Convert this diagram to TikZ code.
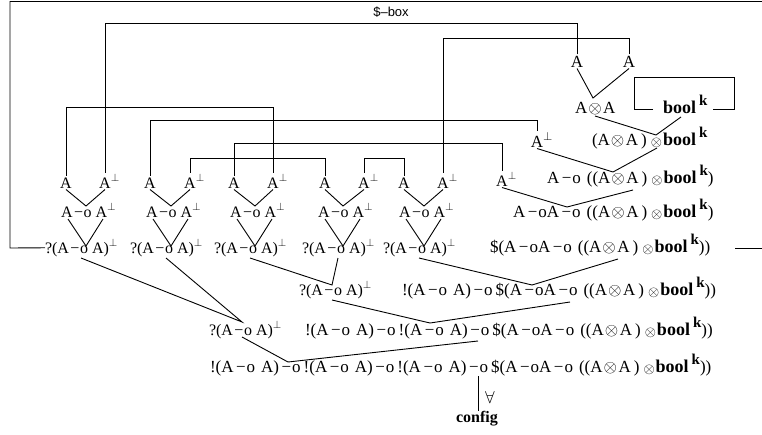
\documentclass[tikz,border=0pt]{standalone}
\usepackage{fontspec}
\setmainfont{Liberation Serif}
\setsansfont{Liberation Sans}
\newcommand{\li}{\kern2.5pt−\kern1pt o}
\newcommand{\lis}{\kern1.5pt−\kern0.5pt o}
\newcommand{\Ap}{A\rlap{$^{\perp}$}}
\newcommand{\Tens}{\kern1pt{\fontsize{19}{19}\selectfont$\otimes$}\kern1.5pt}
\newcommand{\tens}{\kern4pt\raisebox{-1.5pt}{\fontsize{14}{14}\selectfont$\otimes$}\kern1pt}
\newcommand{\Bk}{{\fontsize{18}{18}\selectfont\textbf{bool}}\kern3pt\raisebox{8pt}{\fontsize{15}{15}\selectfont\textbf{k}}}
\newcommand{\Pair}{(A\Tens A\kern3pt)\tens\Bk}
\newcommand{\Core}{A\li A\li\kern6pt(\Pair)}
\newcommand{\Bang}{!(A\li\kern6pt A)\li\kern3pt}
\newcommand{\Qn}{?(A\lis\ A)$^{\perp}$}
\begin{document}
\begin{tikzpicture}[x=1pt,y=-1pt,
  every node/.style={inner sep=0pt,outer sep=0pt,font=\fontsize{16}{18}\selectfont},
  big/.style={font=\fontsize{17}{20}\selectfont},
  atom/.style={anchor=base,inner sep=1.5pt},
  form/.style={anchor=base west},
  lnk/.style={line width=0.9pt}]
\useasboundingbox (0,0) rectangle (762,434);
% box label
\node[font=\sffamily\fontsize{13}{15}\selectfont] (sb) at (391,12) {\$–box};
% top part
\node[atom,big] (t1) at (577,67) {A};
\node[atom,big] (t2) at (629,67) {A};
\node[form,big] (tt) at (575,113) {A\Tens A};
\node[form,big] (bk) at (663,113) {\Bk};
\node[form,big] (tb) at (592,145) {\Pair};
\node[atom,big] (p0) at (537,147) {\Ap};
\node[atom] (p1) at (502,186) {\Ap};
\node[form,big] (f1) at (547,183) {A\li\kern6pt(\Pair)};
\node[form,big] (f2) at (513,217) {\Core};
\node[form,big] (f3) at (490,252) {\$(\Core)};
% groups
\foreach \k/\xa/\xb/\xc in {1/66/105/86,2/150/190/171,3/234/273/255,4/325/364/343,5/404/443/424}{
  \node[atom] (a\k) at (\xa,188) {A};
  \node[atom] (b\k) at (\xb,188) {\Ap};
  \node[form] (m\k) at (\xc-25,217) {A\lis\ \Ap};
  \node[form] (q\k) at (\xc-41,253) {\Qn};
  \coordinate (u\k) at (\xc,206);
  \coordinate (w\k) at (\xc,246);
  \coordinate (ma\k) at (\xc-18,219);
  \coordinate (mb\k) at (\xc+17,219);
  \coordinate (qo\k) at (\xc-5,258);
  \draw[lnk] (a\k.south) -- (u\k) -- (b\k.south);
  \draw[lnk] (ma\k) -- (w\k) -- (mb\k);
}
% lower rows
\node[form] (r2a) at (299,295) {\Qn};
\node[form,big] (r2b) at (402,295) {\Bang\$(\Core)};
\node[form] (r3a) at (209,335) {\Qn};
\node[form,big] (r3b) at (305,335) {\Bang\Bang\$(\Core)};
\node[form,big] (r4) at (210,372) {\Bang\Bang\Bang\$(\Core)};
\node (fa) at (490,397) {$\forall$};
\node[anchor=base,font=\fontsize{16}{18}\selectfont\bfseries] (cf) at (477,422) {config};
% helper coordinates
\coordinate (h23) at (0,23);
\coordinate (h38) at (0,38);
\coordinate (h107) at (0,107);
\coordinate (h120) at (0,120);
\coordinate (h143) at (0,143);
\coordinate (h158) at (0,158);
\coordinate (v0) at (593,98);
\coordinate (tto) at (595,116);
\coordinate (bko) at (681,117);
\coordinate (v1) at (656,135);
\coordinate (vf1) at (613,172);
\coordinate (tbo) at (657,148);
\coordinate (vf2) at (567,207);
\coordinate (f1o) at (633,190);
\coordinate (f3o) at (618,259);
\coordinate (vr2b) at (532,285);
\coordinate (vr2a) at (332,285);
\coordinate (vr3a) at (242,322);
\coordinate (r2ao) at (332,300);
\coordinate (r2bo) at (570,302);
\coordinate (vr3b) at (430,323);
\coordinate (r3ao) at (242,337);
\coordinate (r3bo) at (478,341);
\coordinate (vr4) at (288,362);
\coordinate (r4o) at (478,376);
\coordinate (kl) at (653,109);
\coordinate (kr) at (713,109);
\coordinate (fl) at (10,248);
\coordinate (ftr) at (762,1.5);
\coordinate (re) at (762,248);
\coordinate (rs) at (735,248);
% box frame
\draw[lnk] (q1.west) -- (fl) |- (ftr);
\draw[lnk] (rs) -- (re);
% axiom links
\draw[lnk] (t1.north) -- (t1.north |- h23) -| (b1.north);
\draw[lnk] (t2.north) -- (t2.north |- h38) -| (b5.north);
\draw[lnk] (a1.north) -- (a1.north |- h107) -| (b3.north);
\draw[lnk] (a2.north) -- (a2.north |- h120) -| (p0.north);
\draw[lnk] (a3.north) -- (a3.north |- h143) -| (p1.north);
\draw[lnk] (b2.north) -- (b2.north |- h158) -| (a4.north);
\draw[lnk] (b4.north) -- (b4.north |- h158) -| (a5.north);
\draw[lnk] (kl) -- ++(-19,0) -- ++(0,-32) -- ++(100,0) -- ++(0,32) -- (kr);
% logical links
\draw[lnk] (t1.south) -- (v0) -- (t2.south);
\draw[lnk] (tto) -- (v1) -- (bko);
\draw[lnk] (p0.south) -- (vf1) -- (tbo);
\draw[lnk] (p1.south) -- (vf2) -- (f1o);
\draw[lnk] (qo5) -- (vr2b) -- (f3o);
\draw[lnk] (qo3) -- (vr2a) -- (qo4);
\draw[lnk] (qo1) -- (vr3a) -- (qo2);
\draw[lnk] (r2ao) -- (vr3b) -- (r2bo);
\draw[lnk] (r3ao) -- (vr4) -- (r3bo);
\draw[lnk] (r4o) -- (r4o |- cf.north);
\end{tikzpicture}
\end{document}
